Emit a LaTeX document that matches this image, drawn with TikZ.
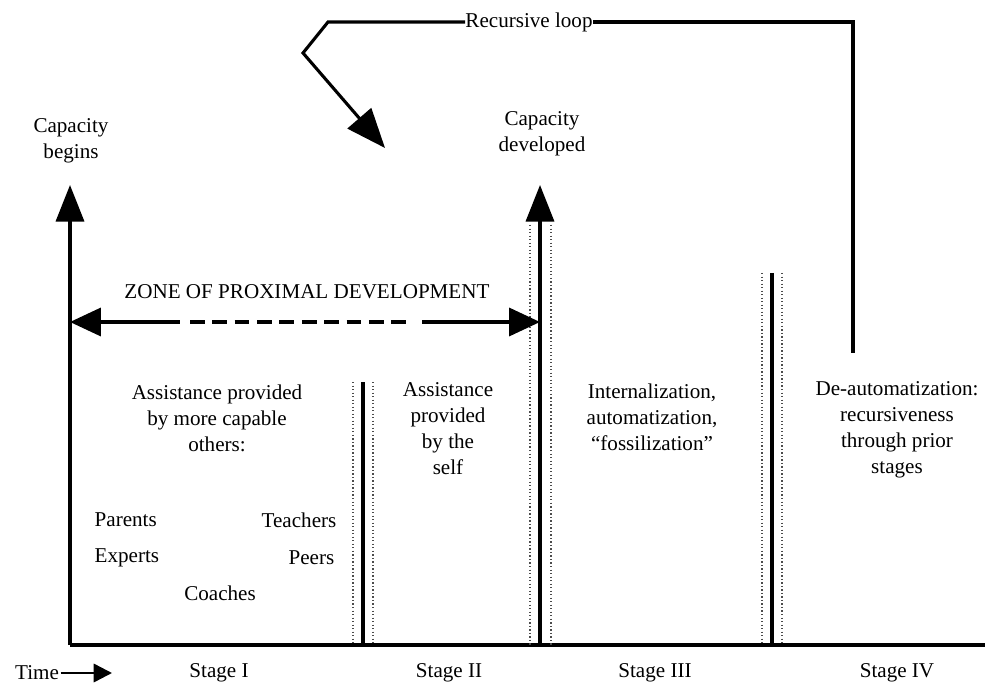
\documentclass[tikz,border=0pt]{standalone}
\usepackage{fontspec}
\setmainfont{Liberation Serif}
\usetikzlibrary{arrows.meta}

\tikzset{
  txt/.style={font=\fontsize{15}{18.5}\selectfont, align=center, inner sep=1pt},
  axis/.style={line width=2.2pt},
  guide/.style={line width=0.9pt, dash pattern=on 0.9pt off 1.6pt, black!70},
  bigtip/.style={-{Triangle[length=26pt,width=20pt]}},
  smalltip/.style={-{Triangle[length=13pt,width=13pt]}},
}

\begin{document}
\begin{tikzpicture}[x=0.025cm, y=-0.025cm]
        \useasboundingbox (0,0) rectangle (985,688);
        % Corner points
        \coordinate (o) at (70,645);
        \coordinate (e) at (985,645);
        \coordinate (begtip) at (70,185);
        \coordinate (devfoot) at (540,645);
        \coordinate (devtip) at (540,185);
        % Labels of the capacity arrows
        \node[txt] (capbeg) at (71,141) {Capacity\\begins};
        \node[txt] (capdev) at (542,134) {Capacity\\developed};
        % Draw axes
        \draw [axis] (o) -- (e);
        \draw [axis, bigtip] (o) -- (begtip);
        \draw [axis, bigtip] (devfoot) -- (devtip);
        % Draw stage dividers
        \foreach \x/\t in {363/382, 772/273} {
            \draw [axis] (\x,\t) -- (\x,645);
            \draw [guide] (\x-10,\t) -- (\x-10,645);
            \draw [guide] (\x+10,\t) -- (\x+10,645);
        }
        \draw [guide] (530,225) -- (530,645);
        \draw [guide] (551,225) -- (551,645);
        % Zone of proximal development
        \node[txt] (zpd) at (307,292) {ZONE OF PROXIMAL DEVELOPMENT};
        \coordinate (zl) at (70,322);
        \coordinate (zr) at (540,322);
        \coordinate (za) at (180,322);
        \coordinate (zb) at (190,322);
        \coordinate (zc) at (413,322);
        \coordinate (zd) at (422,322);
        \draw [axis, {Triangle[length=22pt,width=20pt]}-] (zl) -- (za);
        \draw [axis, dash pattern=on 10.5pt off 5.4pt] (zb) -- (zc);
        \draw [axis, -{Triangle[length=22pt,width=20pt]}] (zd) -- (zr);
        % Recursive loop
        \node[txt, inner sep=0pt] (rec) at (529,22) {Recursive loop};
        \coordinate (loopfoot) at (853,353);
        \coordinate (loopcorner) at (853,22);
        \coordinate (bendtop) at (328,22);
        \coordinate (bendlow) at (303,53);
        \coordinate (looptip) at (385,148);
        \draw [axis] (loopfoot) -- (loopcorner) -- (rec.east);
        \draw [axis, -{Triangle[length=28pt,width=22pt]}] (rec.west) -- (bendtop) -- (bendlow) -- (looptip);
        % Label stages
        \node[txt] (s1text) at (217,418) {Assistance provided\\by more capable\\others:};
        \node[txt, anchor=west] (parents) at (93,520) {Parents};
        \node[txt, anchor=west] (experts) at (93,558) {Experts};
        \node[txt, anchor=east] (teachers) at (338,520) {Teachers};
        \node[txt, anchor=east] (peers) at (336,558) {Peers};
        \node[txt] (coaches) at (220,593) {Coaches};
        \node[txt] (s2text) at (448,429) {Assistance\\provided\\by the\\self};
        \node[txt] (s3text) at (652,417) {Internalization,\\automatization,\\``fossilization''};
        \node[txt] (s4text) at (897,430) {De-automatization:\\recursiveness\\through prior\\stages};
        % Time axis labels
        \node[txt] (time) at (37,673) {Time};
        \coordinate (timetip) at (112,673);
        \draw [line width=1.8pt, smalltip] (time.east) -- (timetip);
        \node[txt] (st1) at (219,673) {Stage I};
        \node[txt] (st2) at (449,673) {Stage II};
        \node[txt] (st3) at (655,673) {Stage III};
        \node[txt] (st4) at (897,673) {Stage IV};
    \end{tikzpicture}
\end{document}
